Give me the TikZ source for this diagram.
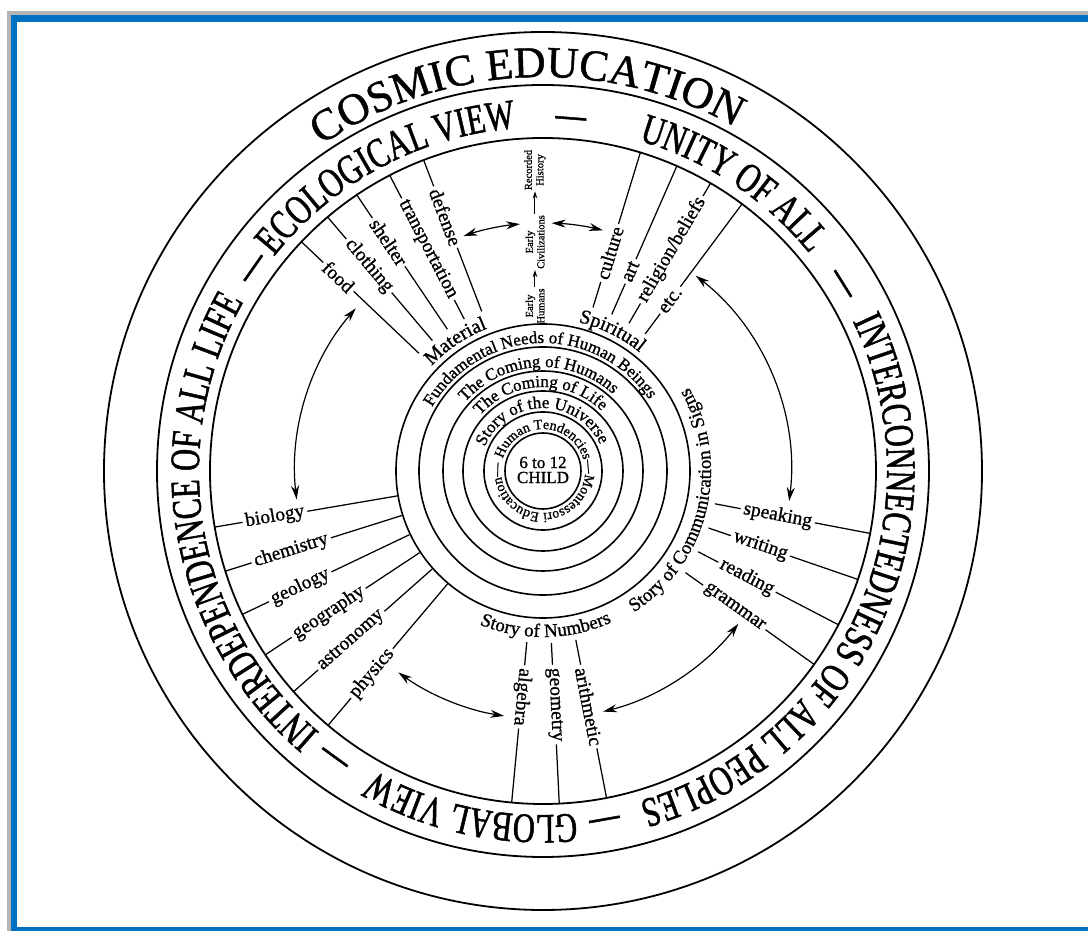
\documentclass[tikz,border=0pt]{standalone}
\usepackage{fontspec}
\setmainfont{Liberation Serif}[FakeBold=1]
\newfontfamily\bandFam[FakeStretch=0.725,FakeBold=1.2]{Liberation Serif}
\usetikzlibrary{decorations.text,arrows.meta}
\definecolor{framegray}{HTML}{B4B4B4}
\definecolor{frameblue}{HTML}{0070C0}
\newcommand\myBandFont{\bandFam\fontsize{42}{42}\selectfont}
\newcommand\myCosmicFont{\fontsize{44}{44}\selectfont}
\newcommand\myRingFont{\fontsize{17}{17}\selectfont}
\newcommand\mySmallRing{\fontsize{14}{14}\selectfont}
\newcommand\myMidFont{\fontsize{20}{20}\selectfont}
\newcommand\myStoryFont{\fontsize{19}{19}\selectfont}
\begin{document}
\begin{tikzpicture}[x=1pt,y=1pt,
  bigring/.style={line width=1.8pt},
  ring/.style={line width=1.6pt},
  spoke/.style={line width=1.25pt},
  lbl/.style={fill=white,inner xsep=3pt,inner ysep=0.5pt,font=\fontsize{19.5}{19.5}\selectfont},
  dbl/.style={line width=1.2pt,{Stealth[length=14pt,width=8pt]}-{Stealth[length=14pt,width=8pt]}},
  upar/.style={line width=1pt,-{Stealth[length=7pt,width=4.5pt]}},
  small/.style={align=center,font=\fontsize{10.5}{11.5}\selectfont,inner sep=1pt},
  ctext/.style={decorate,decoration={text along path,text align=center,text={#1}}}
]
\useasboundingbox (-543,-460) rectangle (545,471);
% frame
\fill[framegray] (-536,460) rectangle (545,-460);
\fill[frameblue] (-532,456) rectangle (545,-460);
\fill[white] (-526,449) rectangle (545,-456);

% circles
\foreach \r in {439,386,333} \draw[bigring] (0,0) circle[radius=\r];
\foreach \r in {38,59,80,100,124,147} \draw[ring] (0,0) circle[radius=\r];

% outer titles
\path[ctext={|\myCosmicFont|COSMIC EDUCATION}] (172.5:394) arc[start angle=172.5,end angle=12.5,radius=394];

\path[ctext={|\myBandFont|ECOLOGICAL VIEW}] (188:344) arc[start angle=188,end angle=48,radius=344];
\path[ctext={|\myBandFont|—}] (115.5:344) arc[start angle=115.5,end angle=55.5,radius=344];
\path[ctext={|\myBandFont|UNITY OF ALL}] (126.5:344) arc[start angle=126.5,end angle=-13.5,radius=344];
\path[ctext={|\myBandFont|—}] (62:344) arc[start angle=62,end angle=2,radius=344];
\path[ctext={|\myBandFont|INTERCONNECTEDNESS OF ALL PEOPLES}] (56:344) arc[start angle=56,end angle=-104,radius=344];
\path[ctext={|\myBandFont|—}] (-50:344) arc[start angle=-50,end angle=-110,radius=344];
\path[ctext={|\myBandFont|GLOBAL VIEW}] (-32:344) arc[start angle=-32,end angle=-172,radius=344];
\path[ctext={|\myBandFont|—}] (-96:344) arc[start angle=-96,end angle=-156,radius=344];
\path[ctext={|\myBandFont|INTERDEPENDENCE OF ALL LIFE}] (-100:344) arc[start angle=-100,end angle=-240,radius=344];
\path[ctext={|\myBandFont|—}] (175:344) arc[start angle=175,end angle=115,radius=344];

% inner rings text
\path[decorate,decoration={text along path,text align=left,text={|\mySmallRing|Human Tendencies—Montessori Education—}}] (163:42) arc[start angle=163,end angle=-195,radius=42];
\path[ctext={|\myRingFont|Story of the Universe}] (171:63) arc[start angle=171,end angle=11,radius=63];
\path[ctext={|\myRingFont|The Coming of Life}] (172:84) arc[start angle=172,end angle=12,radius=84];
\path[ctext={|\myRingFont|The Coming of Humans}] (173:104) arc[start angle=173,end angle=13,radius=104];
\path[ctext={|\myRingFont|Fundamental Needs of Human Beings}] (172:128) arc[start angle=172,end angle=12,radius=128];

\path[ctext={|\myMidFont|Material}] (204:153) arc[start angle=204,end angle=44,radius=153];
\path[ctext={|\myMidFont|Spiritual}] (143.7:153) arc[start angle=143.7,end angle=-16.3,radius=153];
\path[ctext={|\myStoryFont|Story of Communication in Signs}] (-103.7:168) arc[start angle=-103.7,end angle=76.3,radius=168];
\path[ctext={|\myStoryFont|Story of Numbers}] (-179:166) arc[start angle=-179,end angle=1,radius=166];

% centre
\node[align=center,font=\fontsize{17}{15}\selectfont,inner sep=0pt] (child) at (0,1) {6 to 12\\CHILD};

% science spokes
\foreach \a/\t/\r [count=\i] in {189.7/biology/272,197.5/chemistry/264,205.5/geology/269,213.5/geography/257,221.5/astronomy/256,229.8/physics/265}{
  \coordinate (sciA\i) at (\a:148);
  \coordinate (sciB\i) at (\a:333);
  \draw[spoke] (sciA\i) -- (sciB\i);
  \node[lbl,rotate=\a-180] (sci\i) at (\a:\r) {\t};
}
% material spokes
\foreach \a/\t/\r [count=\i] in {136.5/food/282,130.3/clothing/269,124/shelter/276,117.4/transportation/250,111/defense/272}{
  \coordinate (matA\i) at (\a:171);
  \coordinate (matB\i) at (\a:333);
  \draw[spoke] (matA\i) -- (matB\i);
  \node[lbl,rotate=\a-180] (mat\i) at (\a:\r) {\t};
}
% spiritual spokes
\foreach \a/\t/\r [count=\i] in {73/culture/228,66.3/art/218,53.3/etc./213}{
  \coordinate (spiA\i) at (\a:171);
  \coordinate (spiB\i) at (\a:333);
  \draw[spoke] (spiA\i) -- (spiB\i);
  \node[lbl,rotate=\a] (spi\i) at (\a:\r) {\t};
}
\coordinate (relA) at (59.8:171);
\coordinate (relB) at (59.8:333);
\draw[spoke] (relA) -- (relB);
\node[lbl,rotate=59.8] (rel) at (59.8:256) {religion/beliefs};
% communication spokes
\foreach \a/\t/\r [count=\i] in {-10.8/speaking/239,-19/writing/230,-27.5/reading/230,-35.5/grammar/235}{
  \coordinate (comA\i) at (\a:175);
  \coordinate (comB\i) at (\a:333);
  \draw[spoke] (comA\i) -- (comB\i);
  \node[lbl,rotate=\a] (com\i) at (\a:\r) {\t};
}
% number spokes
\foreach \a/\t/\r [count=\i] in {-95.4/algebra/227,-87.2/geometry/234,-79/arithmetic/240}{
  \coordinate (numA\i) at (\a:172);
  \coordinate (numB\i) at (\a:333);
  \draw[spoke] (numA\i) -- (numB\i);
  \node[lbl,rotate=\a] (num\i) at (\a:\r) {\t};
}

% history stack
\node[small,rotate=90] (eh) at (-8,165) {Early\\Humans};
\node[small,rotate=90] (ec) at (-8,229) {Early\\Civilizations};
\node[small,rotate=90] (rh) at (-8,301) {Recorded\\History};
\draw[upar] (eh.east) -- (ec.west);
\draw[upar] (ec.east) -- (rh.west);

% curved double arrows
\coordinate (A1) at (139:248);
\draw[dbl] (A1) arc[start angle=139,end angle=186.6,radius=248];
\coordinate (A2) at (52:248);
\draw[dbl] (A2) arc[start angle=52,end angle=-7,radius=248];
\coordinate (A3) at (-38:248);
\draw[dbl] (A3) arc[start angle=-38,end angle=-76,radius=248];
\coordinate (A4) at (-125.7:248);
\draw[dbl] (A4) arc[start angle=-125.7,end angle=-99,radius=248];
\coordinate (A5) at (108.7:248);
\draw[dbl] (A5) arc[start angle=108.7,end angle=95.3,radius=248];
\coordinate (A6) at (88:248);
\draw[dbl] (A6) arc[start angle=88,end angle=76,radius=248];
\end{tikzpicture}
\end{document}
